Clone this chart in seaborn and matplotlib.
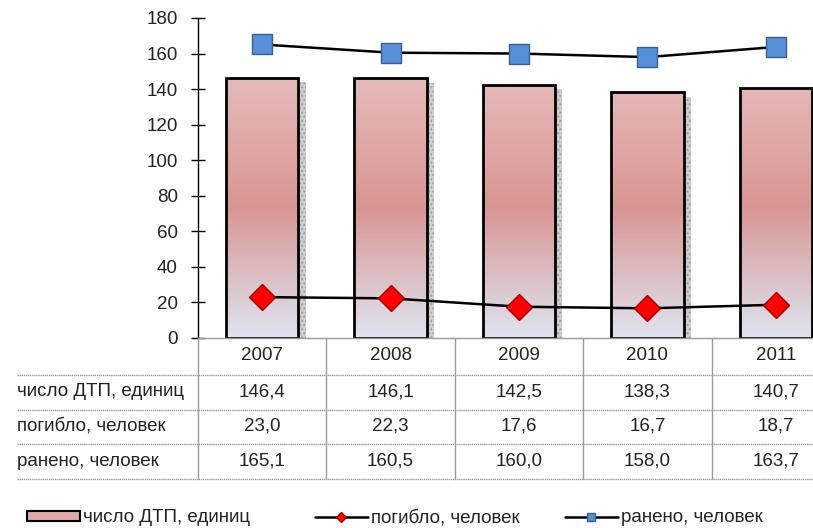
import numpy as np
import pandas as pd
import matplotlib
matplotlib.use("Agg")
import matplotlib.pyplot as plt
import matplotlib.transforms as mtransforms
from matplotlib.colors import LinearSegmentedColormap
from matplotlib.patches import Rectangle
from matplotlib.lines import Line2D
import seaborn as sns

years = ["2007", "2008", "2009", "2010", "2011"]
accidents = [146.4, 146.1, 142.5, 138.3, 140.7]
killed = [23.0, 22.3, 17.6, 16.7, 18.7]
injured = [165.1, 160.5, 160.0, 158.0, 163.7]
row_labels = ["число ДТП, единиц", "погибло, человек", "ранено, человек"]
y_ticks = [0, 20, 40, 60, 80, 100, 120, 140, 160, 180]

sns.set_theme(style="white")
plt.rcParams['font.family'] = ['Liberation Sans', 'DejaVu Sans']

W, H = 813, 528
fig = plt.figure(figsize=(W / 100, H / 100), dpi=100)
left_px, right_px = 198, 840
bot_px, top_px = 338, 18
ax = fig.add_axes([left_px / W, (H - bot_px) / H, (right_px - left_px) / W, (bot_px - top_px) / H])

df = pd.DataFrame({"year": years, "acc": accidents})
sns.barplot(data=df, x="year", y="acc", ax=ax, color="#e0aaa9", width=0.565,
            edgecolor="black", linewidth=2, saturation=1, zorder=3)
ax.set_xlim(-0.5, 4.5)
ax.set_ylim(0, 180)

# gradient fill + shadow
cmap = LinearSegmentedColormap.from_list("g", [(0, "#dee4f0"), (0.5, "#d99694"), (1, "#e6baba")])
grad = np.linspace(0, 1, 256).reshape(-1, 1)
for p in list(ax.patches):
    x0, w, h = p.get_x(), p.get_width(), p.get_height()
    sh = Rectangle((x0 + w, 0), 0.055, h - 2.5, facecolor="#cfcfcf", edgecolor="#a0a0a0",
                   hatch="....", linewidth=0, zorder=2)
    ax.add_patch(sh)
    im = ax.imshow(grad, cmap=cmap, aspect="auto", extent=[x0, x0 + w, 0, 146.4],
                   origin="lower", zorder=3.1)
    im.set_clip_path(p)
    p.set_facecolor("none")
    p.set_zorder(3.2)

xs = np.arange(len(years))
ax.plot(xs, injured, color="black", lw=1.8, marker="s", markersize=14,
        markerfacecolor="#5590d8", markeredgecolor="#3a5f8c", markeredgewidth=1, zorder=5, clip_on=False)
ax.plot(xs, killed, color="black", lw=1.8, marker="D", markersize=13,
        markerfacecolor="#ff0000", markeredgecolor="#a00000", markeredgewidth=1, zorder=5, clip_on=False)

fs = 13.5
ax.set_yticks(y_ticks)
ax.set_yticklabels([str(v) for v in y_ticks], fontsize=fs, color="#222222")
ax.tick_params(axis="y", which="both", direction="inout", length=10, width=1, color="black", pad=9.5, left=True)
ax.set_xticks([])
ax.set_xlabel("")
ax.set_ylabel("")
for s in ["top", "right", "bottom"]:
    ax.spines[s].set_visible(False)
ax.spines["left"].set_color("black")
ax.spines["left"].set_linewidth(1)

# data table below axes
trans = mtransforms.blended_transform_factory(ax.transData, fig.transFigure)
ftrans = fig.transFigure
def fy(py):
    return (H - py) / H
grid_c = "#9a9a9a"
fig.add_artist(Line2D([left_px / W, 1], [fy(338), fy(338)], transform=ftrans, color=grid_c, lw=1))
for py in [375, 410, 444, 479]:
    fig.add_artist(Line2D([17 / W, 1], [fy(py), fy(py)], transform=ftrans, color=grid_c, lw=1, linestyle=(0, (1, 0.5))))
for i in range(len(years) + 1):
    fig.add_artist(Line2D([i - 0.5, i - 0.5], [fy(338), fy(479)], transform=trans, color=grid_c, lw=1))

row_y = [392, 426, 461]
for i, yr in enumerate(years):
    fig.text(i, fy(356), yr, transform=trans, ha="center", va="center", fontsize=fs, color="#222222")
for r, vals in enumerate([accidents, killed, injured]):
    fig.text(17 / W, fy(row_y[r]), row_labels[r], ha="left", va="center", fontsize=fs, color="#222222")
    for i, v in enumerate(vals):
        fig.text(i, fy(row_y[r]), f"{v:.1f}".replace(".", ","), transform=trans,
                 ha="center", va="center", fontsize=fs, color="#222222")

# legend (three entries placed like the reference)
handles = [
    Rectangle((0, 0), 1, 1, facecolor="#e0a8a8", edgecolor="black", linewidth=1.5),
    Line2D([], [], color="black", lw=1.8, marker="D", markersize=5,
           markerfacecolor="#ff0000", markeredgecolor="#a00000"),
    Line2D([], [], color="black", lw=1.8, marker="s", markersize=6,
           markerfacecolor="#5590d8", markeredgecolor="#3a5f8c"),
]
leg_x = [27, 315, 565]
for hnd, lab, lx in zip(handles, row_labels, leg_x):
    lg = fig.legend([hnd], [lab], loc="center left", bbox_to_anchor=(lx / W, fy(518)),
                    frameon=False, fontsize=fs, handlelength=2.8, handleheight=0.45,
                    handletextpad=0.2, borderpad=0, borderaxespad=0, labelcolor="#222222")

fig.savefig("out.png", dpi=100, facecolor="white")
